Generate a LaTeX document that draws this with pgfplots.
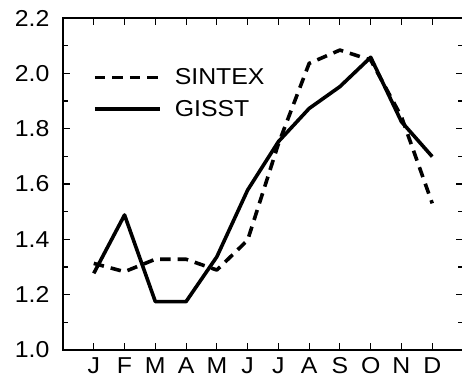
\documentclass[border=0pt]{standalone}
\usepackage{fontspec}
\setmainfont{Liberation Sans}[FakeStretch=1.08]
\usepackage{pgfplots}
\pgfplotsset{compat=1.18}
\begin{document}
\begin{tikzpicture}
\begin{axis}[
  scale only axis, width=400pt, height=332pt,
  xmin=0, xmax=13, ymin=1.0, ymax=2.2,
  xtick={1,2,3,4,5,6,7,8,9,10,11,12},
  xticklabels={J,F,M,A,M,J,J,A,S,O,N,D},
  ytick={1.0,1.2,1.4,1.6,1.8,2.0,2.2},
  minor ytick={1.1,1.3,1.5,1.7,1.9,2.1},
  tick align=inside, major tick length=7pt, minor tick length=5pt,
  axis line style={line width=1.1pt},
  every tick/.style={line width=1.1pt, black},
  minor tick style={line width=1.1pt, black},
  /pgf/number format/assume math mode=true,
  tick label style={font=\fontsize{23}{27}\selectfont},
  yticklabel style={/pgf/number format/.cd, fixed, fixed zerofill, precision=1, /tikz/.cd, xshift=-10pt},
  xticklabel style={yshift=-4pt},
  legend style={draw=none, fill=none, at={(0.075,0.773)}, anchor=west,
    font=\fontsize{23}{27}\selectfont, inner sep=0pt, row sep=14pt, column sep=13pt,
    nodes={inner sep=0pt}},
  legend cell align=left,
  legend image code/.code={\draw[#1] (0pt,0pt) -- (65pt,0pt);},
]
\addplot[black, line width=3.6pt, dash pattern=on 10.5pt off 7pt, line join=round] coordinates {
 (1,1.313) (2,1.283) (3,1.328) (4,1.328) (5,1.289) (6,1.397)
 (7,1.745) (8,2.036) (9,2.084) (10,2.048) (11,1.843) (12,1.530)};
\addlegendentry{SINTEX}
\addplot[black, line width=3.6pt, line join=round] coordinates {
 (1,1.277) (2,1.488) (3,1.175) (4,1.175) (5,1.337) (6,1.578)
 (7,1.753) (8,1.873) (9,1.952) (10,2.058) (11,1.825) (12,1.699)};
\addlegendentry{GISST}
\end{axis}
\pgfresetboundingbox
\useasboundingbox (-63pt,-37pt) rectangle (399pt,350pt);
\end{tikzpicture}
\end{document}
